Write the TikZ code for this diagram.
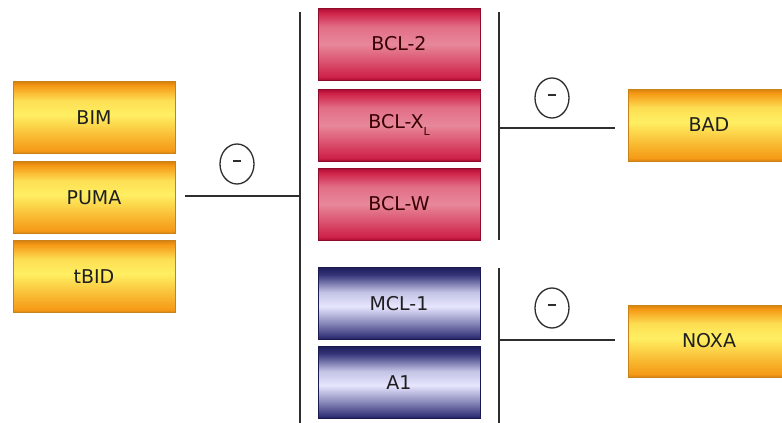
\documentclass[tikz,border=0pt]{standalone}
\usepackage{fontspec}
\setmainfont{DejaVu Sans}
\usetikzlibrary{calc,shapes.geometric}
\definecolor{orDark}{HTML}{D8820E}
\definecolor{orEdge}{HTML}{F59A16}
\definecolor{orMid}{HTML}{FFEF62}
\definecolor{orLine}{HTML}{C98218}
\definecolor{rdDark}{HTML}{A80C30}
\definecolor{rdEdge}{HTML}{CE2048}
\definecolor{rdMid}{HTML}{E8889A}
\definecolor{rdLine}{HTML}{8E0C2A}
\definecolor{blDark}{HTML}{1E1D5A}
\definecolor{blEdge}{HTML}{35347A}
\definecolor{blMid}{HTML}{E6E6FF}
\definecolor{blLine}{HTML}{1A1950}
\definecolor{lineC}{HTML}{2E2E2E}
\pgfdeclareverticalshading{orsh}{100bp}{color(0bp)=(orDark); color(25bp)=(orDark);
  color(27bp)=(orEdge); color(35bp)=(orEdge!70!orMid); color(52bp)=(orMid);
  color(62bp)=(orMid!80!orEdge); color(72bp)=(orEdge); color(75bp)=(orDark); color(100bp)=(orDark)}
\pgfdeclareverticalshading{rdsh}{100bp}{color(0bp)=(rdDark); color(25bp)=(rdDark);
  color(27bp)=(rdEdge); color(36bp)=(rdEdge!60!rdMid); color(50bp)=(rdMid);
  color(62bp)=(rdMid!75!rdEdge); color(72bp)=(rdEdge); color(75bp)=(rdDark); color(100bp)=(rdDark)}
\pgfdeclareverticalshading{blsh}{100bp}{color(0bp)=(blDark); color(25bp)=(blDark);
  color(27bp)=(blEdge); color(37bp)=(blEdge!50!blMid); color(48bp)=(blMid);
  color(58bp)=(blMid!80!blEdge); color(70bp)=(blEdge); color(75bp)=(blDark); color(100bp)=(blDark)}
\tikzset{
  pbox/.style={minimum width=162pt, minimum height=72pt, inner sep=0pt,
    font=\fontsize{19}{22}\selectfont},
  obox/.style={pbox, shading=orsh, draw=orLine, line width=0.6pt, text=black!88},
  rbox/.style={pbox, shading=rdsh, draw=rdLine, line width=0.6pt, text=black!78!red},
  bbox/.style={pbox, shading=blsh, draw=blLine, line width=0.6pt, text=black!88},
  bar/.style={draw=lineC, line width=2.6pt},
  inhib/.style={ellipse, draw=lineC, line width=1.3pt, minimum width=34pt,
    minimum height=40pt, inner sep=0pt},
}
\begin{document}
\begin{tikzpicture}[x=1pt,y=-1pt]
\useasboundingbox (0,0) rectangle (782,423);
\clip (0,0) rectangle (782,423);
\fill[white] (0,0) rectangle (782,423);
% left group
\node[obox] (bim) at (94,117.5) {BIM};
\node[obox] (puma) at (94,197.5) {PUMA};
\node[obox] (tbid) at (94,276.5) {tBID};
% red group
\node[rbox] (bcl2) at (399,44) {BCL-2};
\node[rbox] (bclxl) at (399,125) {BCL-X\raisebox{-0.6ex}{\fontsize{11}{12}\selectfont L}};
\node[rbox] (bclw) at (399,204) {BCL-W};
% blue group
\node[bbox] (mcl1) at (399,303.5) {MCL-1};
\node[bbox] (a1) at (399,382.5) {A1};
% right
\node[obox] (bad) at (709,125) {BAD};
\node[obox] (noxa) at (709,341) {NOXA};
% bars
\coordinate (lvtop) at (300,12);
\coordinate (lvbot) at (300,425);
\draw[bar] (lvtop) -- (lvbot);
\coordinate (rvtop) at (499,12);
\coordinate (rvbot) at (499,240);
\draw[bar] (rvtop) -- (rvbot);
\coordinate (rv2top) at (499,268);
\coordinate (rv2bot) at (499,425);
\draw[bar] (rv2top) -- (rv2bot);
% connectors
\coordinate (pumaout) at ($(puma.east)+(10,-1.5)$);
\draw[bar] (pumaout) -- (pumaout -| lvtop);
\coordinate (badin) at ($(bad.west)+(-13,3)$);
\draw[bar] (badin -| rvtop) -- (badin);
\coordinate (noxain) at ($(noxa.west)+(-13,-1)$);
\draw[bar] (noxain -| rv2top) -- (noxain);
% inhibition marks
\node[inhib] (m1) at (237,164) {};
\node[inhib] (m2) at (552,98) {};
\node[inhib] (m3) at (552,308) {};
\foreach \m in {m1,m2,m3}{
  \draw[lineC, line width=1.3pt] ($(\m.center)+(-4,-3)$) -- ($(\m.center)+(4,-3)$);
}
\end{tikzpicture}
\end{document}
